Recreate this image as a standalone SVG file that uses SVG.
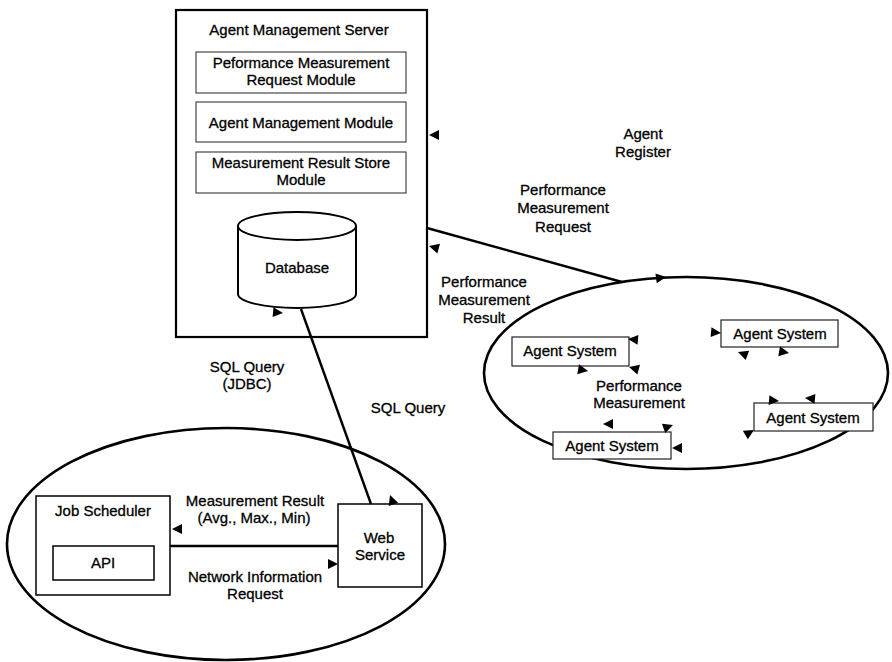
<svg xmlns="http://www.w3.org/2000/svg" xmlns:xlink="http://www.w3.org/1999/xlink" width="892" height="662" viewBox="0 0 892 662">
  <style>
    text { font-family: "Liberation Sans", Arial, sans-serif; font-size: 15px; fill: #000; stroke: #000; stroke-width: 0.3; text-anchor: middle; }
    .frame { fill: none; stroke: #000; stroke-width: 2.2; }
    .module { fill: #fff; stroke: #222; stroke-width: 1; }
    .agent { fill: #fff; stroke: #222; stroke-width: 1.2; }
    .box { fill: #fff; stroke: #000; stroke-width: 1.5; }
    .zone { fill: none; stroke: #000; stroke-width: 2.6; }
    .wire { fill: none; stroke: #000; stroke-width: 2.4; }
    .head { fill: #000; }
  </style>
  <defs>
    <!-- arrowhead pointing along +x, tip at origin -->
    <path id="tri" d="M0,0 L-10,-5 L-10,5 Z"/>
  </defs>
  <rect width="892" height="662" fill="#fff"/>

  <!-- Agent Management Server -->
  <g id="server">
    <rect class="frame" x="176" y="10" width="251" height="327"/>
    <text x="299" y="35">Agent Management Server</text>
  </g>
  <g id="perf-request-module">
    <rect class="module" x="196" y="52" width="210" height="41"/>
    <text x="301" y="68">Peformance Measurement</text>
    <text x="301" y="85">Request Module</text>
  </g>
  <g id="agent-management-module">
    <rect class="module" x="196" y="102" width="210" height="40"/>
    <text x="301" y="128">Agent Management Module</text>
  </g>
  <g id="result-store-module">
    <rect class="module" x="196" y="152" width="210" height="41"/>
    <text x="301" y="168">Measurement Result Store</text>
    <text x="301" y="185">Module</text>
  </g>
  <g id="database">
    <path d="M238,226 L238,294 A59,14 0 0 0 356,294 L356,226" fill="#fff" stroke="#000" stroke-width="2"/>
    <ellipse cx="297" cy="226" rx="59" ry="14" fill="#fff" stroke="#000" stroke-width="2"/>
    <text x="297" y="273">Database</text>
  </g>

  <!-- Agent systems domain -->
  <g id="agent-domain">
    <ellipse class="zone" cx="686" cy="373" rx="202" ry="96"/>
  </g>
  <g id="agent-system-1">
    <rect class="agent" x="512" y="337" width="117" height="29"/>
    <text x="570" y="356">Agent System</text>
  </g>
  <g id="agent-system-2">
    <rect class="agent" x="721" y="320" width="117" height="27"/>
    <text x="780" y="339">Agent System</text>
  </g>
  <g id="agent-system-3">
    <rect class="agent" x="754" y="403" width="119" height="28"/>
    <text x="813" y="423">Agent System</text>
  </g>
  <g id="agent-system-4">
    <rect class="agent" x="553" y="432" width="118" height="27"/>
    <text x="612" y="451">Agent System</text>
  </g>

  <!-- Client domain -->
  <g id="client-domain">
    <ellipse class="zone" cx="226" cy="544" rx="219" ry="116"/>
  </g>
  <g id="job-scheduler">
    <rect class="box" x="36" y="496" width="134" height="99"/>
    <text x="103" y="516">Job Scheduler</text>
  </g>
  <g id="api">
    <rect class="box" x="53" y="546" width="101" height="34"/>
    <text x="103" y="568">API</text>
  </g>
  <g id="web-service">
    <rect class="box" x="338" y="504" width="84" height="83"/>
    <text x="379" y="543">Web</text>
    <text x="380" y="560">Service</text>
  </g>

  <!-- Connectors -->
  <g id="connectors">
    <line class="wire" x1="427" y1="228" x2="622" y2="282"/>
    <line class="wire" x1="301" y1="309" x2="371" y2="504" stroke-width="2"/>
    <line class="wire" x1="170" y1="546" x2="338" y2="546" stroke-width="3"/>

    <use href="#tri" class="head" transform="translate(429,135) rotate(180)"/>
    <use href="#tri" class="head" transform="translate(429,246) rotate(195)"/>
    <use href="#tri" class="head" transform="translate(283,313) rotate(5)"/>
    <use href="#tri" class="head" transform="translate(666,277) rotate(-8)"/>
    <use href="#tri" class="head" transform="translate(390,495) rotate(-110)"/>
    <use href="#tri" class="head" transform="translate(172,529) rotate(180)"/>
    <use href="#tri" class="head" transform="translate(338,564) rotate(0)"/>

    <use href="#tri" class="head" transform="translate(628,339) rotate(185)"/>
    <use href="#tri" class="head" transform="translate(629,367) rotate(195)"/>
    <use href="#tri" class="head" transform="translate(588,371) rotate(10)"/>
    <use href="#tri" class="head" transform="translate(721,333) rotate(5)"/>
    <use href="#tri" class="head" transform="translate(738,352) rotate(200)"/>
    <use href="#tri" class="head" transform="translate(789,353) rotate(10)"/>
    <use href="#tri" class="head" transform="translate(779,401) rotate(5)"/>
    <use href="#tri" class="head" transform="translate(805,398) rotate(185)"/>
    <use href="#tri" class="head" transform="translate(754,430) rotate(-30)"/>
    <use href="#tri" class="head" transform="translate(603,424) rotate(180)"/>
    <use href="#tri" class="head" transform="translate(673,425) rotate(-20)"/>
    <use href="#tri" class="head" transform="translate(672,448) rotate(180)"/>

    <text x="643" y="139">Agent</text>
    <text x="643" y="157">Register</text>
    <text x="563" y="195">Performance</text>
    <text x="563" y="213">Measurement</text>
    <text x="563" y="232">Request</text>
    <text x="484" y="287">Performance</text>
    <text x="484" y="305">Measurement</text>
    <text x="484" y="323">Result</text>
    <text x="639" y="391">Performance</text>
    <text x="639" y="408">Measurement</text>
    <text x="247" y="372">SQL Query</text>
    <text x="247" y="389">(JDBC)</text>
    <text x="408" y="413">SQL Query</text>
    <text x="255" y="506">Measurement Result</text>
    <text x="254" y="523">(Avg., Max., Min)</text>
    <text x="255" y="582">Network Information</text>
    <text x="255" y="599">Request</text>
  </g>
</svg>
